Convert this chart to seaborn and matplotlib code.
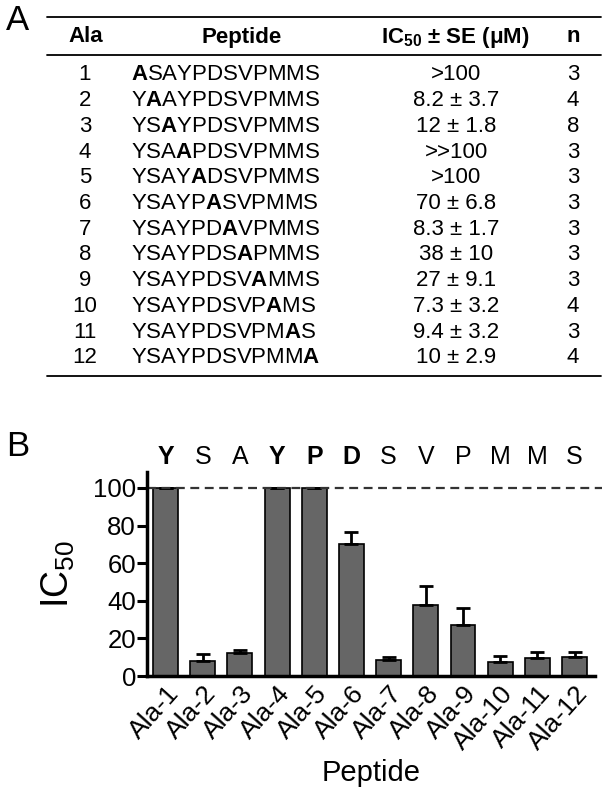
import numpy as np
import pandas as pd
import matplotlib
matplotlib.use("Agg")
import matplotlib.pyplot as plt
import seaborn as sns

# table data
ala_num = [1, 2, 3, 4, 5, 6, 7, 8, 9, 10, 11, 12]
wild_type = "YSAYPDSVPMMS"
ic50_text = [">100", "8.2 ± 3.7", "12 ± 1.8", ">>100", ">100", "70 ± 6.8",
             "8.3 ± 1.7", "38 ± 10", "27 ± 9.1", "7.3 ± 3.2", "9.4 ± 3.2", "10 ± 2.9"]
n_reps = [3, 4, 8, 3, 3, 3, 3, 3, 3, 4, 3, 4]

# bar chart data (>100 drawn at the 100 cut-off)
peptides = ["Ala-%d" % i for i in ala_num]
ic50 = [100, 8.2, 12, 100, 100, 70, 8.3, 38, 27, 7.3, 9.4, 10]
se = [0, 3.7, 1.8, 0, 0, 6.8, 1.7, 10, 9.1, 3.2, 3.2, 2.9]
residues = list(wild_type)
bold_res = [True, False, False, True, True, True, False, False, False, False, False, False]

sns.set_style("ticks")
plt.rcParams['font.family'] = ['Liberation Sans', 'DejaVu Sans']
plt.rcParams['mathtext.fontset'] = 'custom'
plt.rcParams['mathtext.rm'] = 'Liberation Sans'
plt.rcParams['mathtext.bf'] = 'Liberation Sans:bold'
plt.rcParams['mathtext.it'] = 'Liberation Sans:italic'
plt.rcParams['text.color'] = 'black'
plt.rcParams['axes.labelcolor'] = 'black'
plt.rcParams['xtick.color'] = 'black'
plt.rcParams['ytick.color'] = 'black'
plt.rcParams['axes.edgecolor'] = 'black'

W, H = 609, 802
fig = plt.figure(figsize=(W / 100, H / 100), dpi=100)

def fx(px):
    return px / W

def fy(py):
    return 1 - py / H

# ---- panel A: table ----
row0, dy = 75, 25.7
bottom_rule = row0 + 11 * dy + 18
fig.text(fx(6), fy(20), "A", fontsize=25, va="center", ha="left")
for yline in [17, 55, bottom_rule]:
    fig.add_artist(plt.Line2D([fx(47), fx(601)], [fy(yline), fy(yline)],
                              color="black", lw=1.3))
hy = fy(37)
fig.text(fx(86), hy, "Ala", fontsize=16, fontweight="bold", ha="center", va="center")
fig.text(fx(242), hy, "Peptide", fontsize=16, fontweight="bold", ha="center", va="center")
fig.text(fx(455), hy, r"IC$_{\mathbf{50}}$ ± SE (μM)", fontsize=16, fontweight="bold",
         ha="center", va="center")
fig.text(fx(573), hy, "n", fontsize=16, fontweight="bold", ha="center", va="center")

for i in range(12):
    y = fy(row0 + i * dy)
    seq = wild_type[:i] + r"$\mathbf{A}$" + wild_type[i + 1:]
    fig.text(fx(85), y, str(ala_num[i]), fontsize=16, ha="center", va="center")
    fig.text(fx(131), y, seq, fontsize=16, ha="left", va="center")
    fig.text(fx(456), y, ic50_text[i], fontsize=16, ha="center", va="center")
    fig.text(fx(573), y, str(n_reps[i]), fontsize=16, ha="center", va="center")

# ---- panel B: bar chart ----
y0, ytop = 676, 472
ax = fig.add_axes([fx(147), 1 - y0 / H, fx(595 - 147), (y0 - ytop) / H])
df = pd.DataFrame({"Peptide": peptides, "IC50": ic50, "SE": se})
sns.barplot(data=df, x="Peptide", y="IC50", color="#666666", edgecolor="black",
            linewidth=1.2, width=0.67, saturation=1, ax=ax)
xpos = np.arange(len(peptides))
ax.errorbar(xpos, ic50, yerr=[np.zeros(len(se)), se], fmt="none", ecolor="black",
            elinewidth=2, capsize=5, capthick=2)
ax.set_ylim(0, 108.5)
ax.set_xlim(-0.5, 11.55)
ax.axhline(100, xmin=0, xmax=1.015, color="#333333", lw=1.6, ls=(0, (4, 2.5)), clip_on=False)
ax.set_yticks([0, 20, 40, 60, 80, 100])
ax.tick_params(axis="y", labelsize=18.5, width=2.2, length=7, pad=1)
ax.tick_params(axis="x", labelsize=19, length=0, pad=4)
plt.setp(ax.get_xticklabels(), rotation=48, ha="right", rotation_mode="anchor")
for s in ["left", "bottom"]:
    ax.spines[s].set_linewidth(2.5)
sns.despine(ax=ax)
ax.set_xlabel("Peptide", fontsize=21, labelpad=3)
ax.set_ylabel("IC$_{50}$", fontsize=27, labelpad=11)

for i, r in enumerate(residues):
    ax.text(i, 116.5, r, fontsize=18, ha="center", va="center",
            fontweight="bold" if bold_res[i] else "normal", clip_on=False)
fig.text(fx(6), fy(446), "B", fontsize=25, va="center", ha="left")

fig.savefig("out.png", dpi=100)
